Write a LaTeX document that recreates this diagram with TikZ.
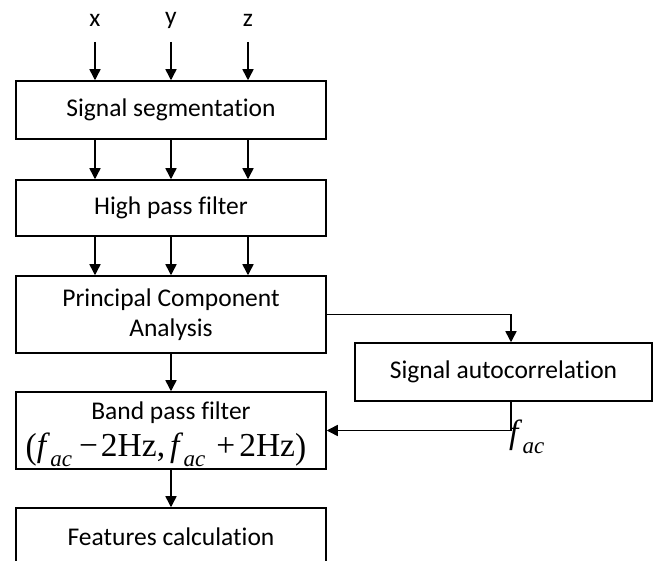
\documentclass[tikz,border=0pt]{standalone}
\usepackage{fontspec}
\setmainfont{Carlito}[Ligatures=NoCommon]
\newfontfamily\tnr{Liberation Serif}
\usetikzlibrary{arrows.meta}
\newcommand\facsym{\textit{f}\kern0.01em\raisebox{-0.3em}{\fontsize{23}{23}\selectfont\textit{ac}}}
\newcommand\bigpar[1]{\raisebox{-0.04em}{\scalebox{1}[1.08]{#1}}}
\tikzset{
  box/.style={draw, line width=1.5pt, minimum width=310pt, inner sep=0pt, font=\fontsize{25.5}{30}\selectfont, align=center},
  lbl/.style={inner sep=0pt, font=\fontsize{25.5}{30}\selectfont},
  arr/.style={line width=1.5pt, -{Triangle[length=11pt,width=11pt]}},
  mth/.style={inner sep=0pt, font=\tnr\fontsize{33.5}{33.5}\selectfont}
}
\begin{document}
\begin{tikzpicture}[x=1pt,y=1pt]
\useasboundingbox (0,0) rectangle (654,-561);
\clip (0,0) rectangle (654,-561);
% inputs
\node[lbl] (x) at (95,-20) {x};
\node[lbl] (y) at (171,-20) {y};
\node[lbl] (z) at (248,-20) {z};
\coordinate (xs) at (95,-42);
\coordinate (ys) at (171,-42);
\coordinate (zs) at (248,-42);
% boxes
\node[box, minimum height=58pt] (seg) at (171,-110) {Signal segmentation};
\node[box, minimum height=56pt] (hp) at (171,-208) {High pass filter};
\node[box, minimum height=77pt] (pca) at (171,-314.5) {};
\node[lbl] (pcat1) at (171,-300) {Principal Component};
\node[lbl] (pcat2) at (171,-330) {Analysis};
\node[box, minimum height=77pt] (band) at (171,-430.5) {};
\node[lbl] (bandt) at (171,-413) {Band pass filter};
\node[mth] (bandm) at (166,-450) {\bigpar{(}\facsym\kern7pt−\kern3pt2Hz,\kern5pt\facsym\kern11pt+\kern4pt2Hz\bigpar{)}};
\node[box, minimum height=58pt] (feat) at (171,-537) {Features calculation};
\node[box, minimum width=297pt, minimum height=58pt] (auto) at (503.5,-372) {Signal autocorrelation};
\node[mth, anchor=west] (faclbl) at (509,-437) {\facsym};
% arrows
\draw[arr] (xs) -- (xs |- seg.north);
\draw[arr] (ys) -- (ys |- seg.north);
\draw[arr] (zs) -- (zs |- seg.north);
\foreach \xx in {95,171,248} {
  \draw[arr] (seg.south -| \xx,0) -- (hp.north -| \xx,0);
  \draw[arr] (hp.south -| \xx,0) -- (pca.north -| \xx,0);
}
\draw[arr] (pca.south) -- (band.north);
\coordinate (turn1) at (511,-314.5);
\coordinate (turn2) at (511,-430.5);
\draw[arr] (pca.east) -- (turn1) -- (turn1 |- auto.north);
\draw[arr] (turn2 |- auto.south) -- (turn2) -- (band.east);
\draw[arr] (band.south) -- (feat.north);
\end{tikzpicture}
\end{document}
